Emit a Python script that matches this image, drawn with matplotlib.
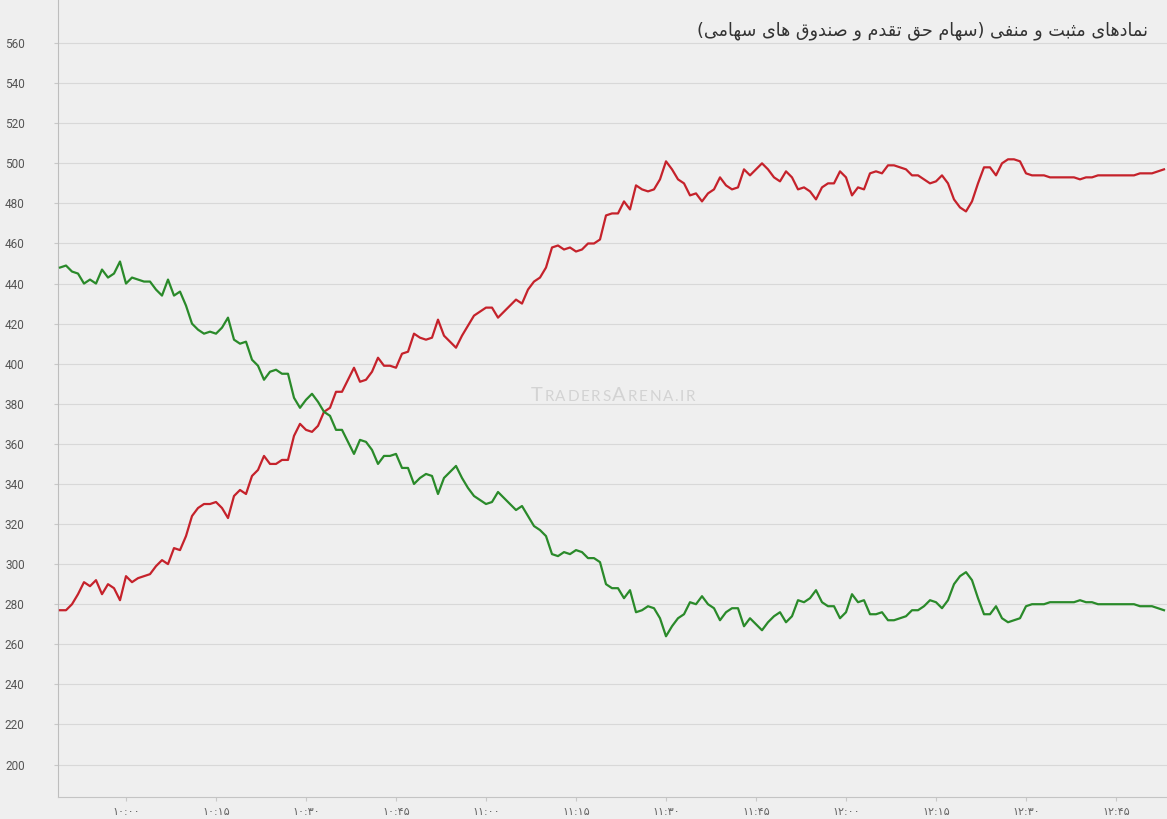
import matplotlib
matplotlib.use('Agg')
import matplotlib.pyplot as plt
import numpy as np
from matplotlib.offsetbox import TextArea, HPacker, AnchoredOffsetbox

# متن عنوان (ترتیب منطقی)
title_fa = 'نمادهای مثبت و منفی (سهام حق تقدم و صندوق های سهامی)'

start_minute = 9 * 60 + 49  # اولین نقطه ساعت ۹:۴۹، هر دقیقه یک نقطه
tick_minutes = [600, 615, 630, 645, 660, 675, 690, 705, 720, 735, 750, 765]
tick_labels = ['۱۰:۰۰', '۱۰:۱۵', '۱۰:۳۰', '۱۰:۴۵', '۱۱:۰۰', '۱۱:۱۵',
               '۱۱:۳۰', '۱۱:۴۵', '۱۲:۰۰', '۱۲:۱۵', '۱۲:۳۰', '۱۲:۴۵']
y_ticks = [200, 220, 240, 260, 280, 300, 320, 340, 360, 380, 400, 420, 440,
           460, 480, 500, 520, 540, 560]

# نمادهای مثبت (سبز)
positive = [448, 449, 446, 445, 440, 442, 440, 447, 443, 445,
            451, 440, 443, 442, 441, 441, 437, 434, 442, 434,
            436, 429, 420, 417, 415, 416, 415, 418, 423, 412,
            410, 411, 402, 399, 392, 396, 397, 395, 395, 383,
            378, 382, 385, 381, 376, 374, 367, 367, 361, 355,
            362, 361, 357, 350, 354, 354, 355, 348, 348, 340,
            343, 345, 344, 335, 343, 346, 349, 343, 338, 334,
            332, 330, 331, 336, 333, 330, 327, 329, 324, 319,
            317, 314, 305, 304, 306, 305, 307, 306, 303, 303,
            301, 290, 288, 288, 283, 287, 276, 277, 279, 278,
            273, 264, 269, 273, 275, 281, 280, 284, 280, 278,
            272, 276, 278, 278, 269, 273, 270, 267, 271, 274,
            276, 271, 274, 282, 281, 283, 287, 281, 279, 279,
            273, 276, 285, 281, 282, 275, 275, 276, 272, 272,
            273, 274, 277, 277, 279, 282, 281, 278, 282, 290,
            294, 296, 292, 283, 275, 275, 279, 273, 271, 272,
            273, 279, 280, 280, 280, 281, 281, 281, 281, 281,
            282, 281, 281, 280, 280, 280, 280, 280, 280, 280,
            279, 279, 279, 278, 277]

# نمادهای منفی (قرمز)
negative = [277, 277, 280, 285, 291, 289, 292, 285, 290, 288,
            282, 294, 291, 293, 294, 295, 299, 302, 300, 308,
            307, 314, 324, 328, 330, 330, 331, 328, 323, 334,
            337, 335, 344, 347, 354, 350, 350, 352, 352, 364,
            370, 367, 366, 369, 376, 378, 386, 386, 392, 398,
            391, 392, 396, 403, 399, 399, 398, 405, 406, 415,
            413, 412, 413, 422, 414, 411, 408, 414, 419, 424,
            426, 428, 428, 423, 426, 429, 432, 430, 437, 441,
            443, 448, 458, 459, 457, 458, 456, 457, 460, 460,
            462, 474, 475, 475, 481, 477, 489, 487, 486, 487,
            492, 501, 497, 492, 490, 484, 485, 481, 485, 487,
            493, 489, 487, 488, 497, 494, 497, 500, 497, 493,
            491, 496, 493, 487, 488, 486, 482, 488, 490, 490,
            496, 493, 484, 488, 487, 495, 496, 495, 499, 499,
            498, 497, 494, 494, 492, 490, 491, 494, 490, 482,
            478, 476, 481, 490, 498, 498, 494, 500, 502, 502,
            501, 495, 494, 494, 494, 493, 493, 493, 493, 493,
            492, 493, 493, 494, 494, 494, 494, 494, 494, 494,
            495, 495, 495, 496, 497]

# شکل‌دهی ساده حروف فارسی (matplotlib خودش اتصال حروف را انجام نمی‌دهد)
FORMS = {
    'ا': ('\uFE8D', '\uFE8E', None, None),
    'ب': ('\uFE8F', '\uFE90', '\uFE91', '\uFE92'),
    'ت': ('\uFE95', '\uFE96', '\uFE97', '\uFE98'),
    'ث': ('\uFE99', '\uFE9A', '\uFE9B', '\uFE9C'),
    'ح': ('\uFEA1', '\uFEA2', '\uFEA3', '\uFEA4'),
    'د': ('\uFEA9', '\uFEAA', None, None),
    'س': ('\uFEB1', '\uFEB2', '\uFEB3', '\uFEB4'),
    'ص': ('\uFEB9', '\uFEBA', '\uFEBB', '\uFEBC'),
    'ف': ('\uFED1', '\uFED2', '\uFED3', '\uFED4'),
    'ق': ('\uFED5', '\uFED6', '\uFED7', '\uFED8'),
    'م': ('\uFEE1', '\uFEE2', '\uFEE3', '\uFEE4'),
    'ن': ('\uFEE5', '\uFEE6', '\uFEE7', '\uFEE8'),
    'ه': ('\uFEE9', '\uFEEA', '\uFEEB', '\uFEEC'),
    'و': ('\uFEED', '\uFEEE', None, None),
    'ی': ('\uFEEF', '\uFEF0', '\uFEF3', '\uFEF4'),
}


def shape_rtl(text):
    out = []
    for i, ch in enumerate(text):
        if ch not in FORMS:
            out.append(ch)
            continue
        prev_join = i > 0 and text[i - 1] in FORMS and FORMS[text[i - 1]][2] is not None
        next_join = (i < len(text) - 1 and text[i + 1] in FORMS
                     and FORMS[ch][2] is not None)
        iso, fin, ini, med = FORMS[ch]
        if prev_join and next_join:
            out.append(med)
        elif prev_join:
            out.append(fin)
        elif next_join:
            out.append(ini)
        else:
            out.append(iso)
    vis = ''.join(reversed(out))
    return vis.translate(str.maketrans('()', ')('))


x = start_minute + np.arange(len(positive))

W, H = 1167, 819
bg = '#efefef'
fig = plt.figure(figsize=(W / 100, H / 100), dpi=100, facecolor=bg)
ax = fig.add_axes([58 / W, 1 - 797 / H, (W - 58) / W, 797 / H], facecolor=bg)

ax.plot(x, negative, color='#c5222b', lw=1.6, zorder=3)
ax.plot(x, positive, color='#2a8a2a', lw=1.6, zorder=3)

ax.set_xlim(600 - 68 / 6, 600 + 1041 / 6)
ax.set_ylim(183.8, 581.5)

ax.set_yticks(y_ticks)
ax.set_yticklabels([str(v) for v in y_ticks])
ax.set_xticks(tick_minutes)
ax.set_xticklabels(tick_labels)

ax.grid(True, axis='y', color='#d8d8d8', lw=0.8)
ax.set_axisbelow(True)
for s in ['top', 'right']:
    ax.spines[s].set_visible(False)
ax.spines['left'].set_color('#bdbdbd')
ax.spines['bottom'].set_color('#c4c4c4')

ax.tick_params(axis='y', length=3, color='#c8c8c8', pad=21, labelsize=8.5,
               labelcolor='#555555')
ax.tick_params(axis='x', length=3, color='#c8c8c8', pad=4, labelsize=8,
               labelcolor='#666666')
for lab in ax.get_yticklabels():
    lab.set_family('Roboto')
for lab in ax.get_xticklabels():
    lab.set_family('DejaVu Sans')

fig.text(1148 / W, 1 - 31 / H, shape_rtl(title_fa), ha='right', va='center',
         fontsize=12.7, color='#333333', family='DejaVu Sans')

# واترمارک (حروف کوچک‌شده با فاصله)
parts = [('T', 14.5)] + [(c, 11) for c in 'RADERS'] + [('A', 14.5)] + \
        [(c, 11) for c in 'RENA.IR']
kids = [TextArea(s, textprops=dict(fontsize=sz, color='#d3d3d3', family='Lato'))
        for s, sz in parts]
wm = HPacker(children=kids, align='baseline', pad=0, sep=1.2)
anch = AnchoredOffsetbox(loc='center', child=wm, frameon=False, pad=0, borderpad=0,
                         bbox_to_anchor=(613 / W, 1 - 395 / H),
                         bbox_transform=fig.transFigure)
ax.add_artist(anch)

fig.savefig('out.png', dpi=100, facecolor=bg)
